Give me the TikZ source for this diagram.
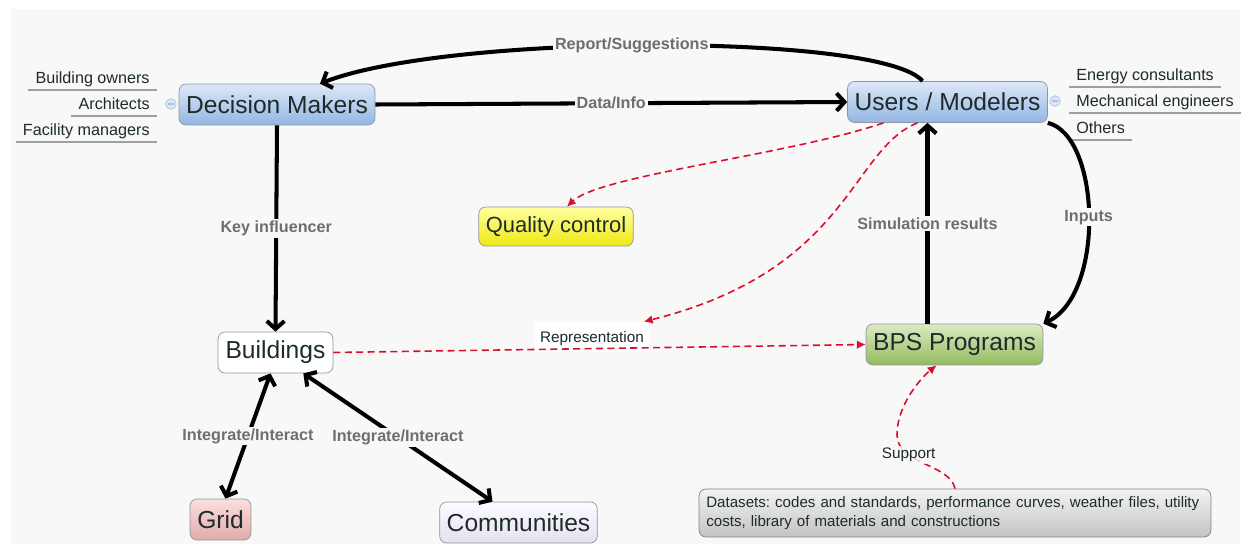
\documentclass[tikz,border=0pt]{standalone}
\usepackage{fontspec}
\setmainfont{Liberation Sans}
\usepackage{tikz}
\usetikzlibrary{arrows.meta}
\usetikzlibrary{calc}
\usetikzlibrary{positioning}
\definecolor{mbg}{HTML}{F8F8F8}
\definecolor{mtext}{HTML}{1E2B2B}
\definecolor{mgrey}{HTML}{6E6E6E}
\definecolor{mframe}{HTML}{8C96A0}
\definecolor{mred}{HTML}{D6102C}
\definecolor{mblueA}{HTML}{DDE8F7}
\definecolor{mblueB}{HTML}{93B6E4}
\definecolor{myellowA}{HTML}{FFFFA0}
\definecolor{myellowB}{HTML}{F0E812}
\definecolor{mgreenA}{HTML}{DCEAC2}
\definecolor{mgreenB}{HTML}{93BB5E}
\definecolor{mpinkA}{HTML}{FADFDF}
\definecolor{mpinkB}{HTML}{E2AAAA}
\definecolor{mlilacA}{HTML}{FCFBFF}
\definecolor{mlilacB}{HTML}{E6E0F0}
\definecolor{mgreyA}{HTML}{F3F3F3}
\definecolor{mgreyB}{HTML}{C3C3C3}
\definecolor{mknob}{HTML}{A9C2E2}
\definecolor{mknobfill}{HTML}{DCE8F6}
\tikzset{box/.style = {draw = mframe, rounded corners = 4pt, text = mtext, font = \fontsize{14}{16}\selectfont, minimum height = 0.82cm, inner xsep = 4pt}}
\tikzset{blk/.style = {line width = 2.3pt, -{Straight Barb[length = 4.5pt, width = 10pt]}}}
\tikzset{blkboth/.style = {line width = 2.3pt, {Straight Barb[length = 4.5pt, width = 10pt]}-{Straight Barb[length = 4.5pt, width = 10pt]}}}
\tikzset{rdash/.style = {mred, line width = 0.9pt, dash pattern = on 4pt off 2.5pt, -{Latex[length = 5pt, width = 5pt]}}}
\tikzset{elabel/.style = {font = \fontsize{9.2}{11}\selectfont\bfseries, text = mgrey, fill = mbg, inner sep = 1pt}}
\tikzset{plabel/.style = {font = \fontsize{8.7}{10}\selectfont, text = mtext, inner sep = 1pt}}
\tikzset{side/.style = {font = \fontsize{9.2}{11}\selectfont, text = mtext, inner xsep = 4pt, inner ysep = 2pt, text height = 7pt, text depth = 1.3pt}}
\tikzset{uline/.style = {draw = gray!75, line width = 0.8pt}}
\tikzset{knob/.style = {circle, draw = mknob, fill = mknobfill, inner sep = 0, minimum size = 6pt,
    path picture = {\draw [mknob, line width = 0.6pt] ([xshift = -1.8pt] path picture bounding box.center) -- ([xshift = 1.8pt] path picture bounding box.center);}}}

\begin{document}
\begin{tikzpicture}[x = 0.02cm, y = -0.02cm]
      \useasboundingbox (0, 0) rectangle (1248, 544);
      \fill [mbg] (11, 9) rectangle (1240, 544);

      \node [box, top color = mblueA, bottom color = mblueB, minimum width = 3.92cm] (dm) at (277, 104.5) {Decision Makers};
      \node [box, top color = mblueA, bottom color = mblueB, minimum width = 3.98cm] (um) at (947.5, 102) {Users / Modelers};
      \node [box, top color = myellowA, bottom color = myellowB, minimum width = 3.04cm, minimum height = 0.78cm, font = \fontsize{12.5}{14}\selectfont] (qc) at (556, 226.5) {Quality control};
      \node [box, fill = white, minimum width = 2.3cm] (bld) at (275.5, 352.5) {Buildings};
      \node [box, top color = mgreenA, bottom color = mgreenB, minimum width = 3.54cm] (bps) at (954.5, 344.5) {BPS Programs};
      \node [box, top color = mpinkA, bottom color = mpinkB, minimum width = 1.22cm] (grid) at (220.5, 519.5) {Grid};
      \node [box, top color = mlilacA, bottom color = mlilacB, minimum width = 3.14cm] (comm) at (518.5, 522.5) {Communities};
      \node [box, top color = mgreyA, bottom color = mgreyB, draw = gray, minimum width = 10.24cm, minimum height = 0.96cm,
        font = \fontsize{8.6}{10.5}\selectfont\frenchspacing, align = left, text width = 9.95cm] (data) at (955, 513) {Datasets: codes and standards, performance curves, weather files, utility\\costs, library of materials and constructions};
      \node [fill = white, minimum width = 2.3cm, minimum height = 0.6cm, inner sep = 0] (rl) at (592, 337) {};
      \node [plabel, anchor = north] at (rl.north) [yshift = -4.5pt] {Representation};

      \node [side, anchor = south east] (bo) at (157, 90) {Building owners};
      \node [side, anchor = south east] (ar) at (157, 116) {Architects};
      \node [side, anchor = south east] (fm) at (157, 142) {Facility managers};
      \draw [uline] (bo.south west) -- (bo.south east);
      \draw [uline] (ar.south west) -- (ar.south east);
      \draw [uline] (fm.south west) -- (fm.south east);
      \node [knob] (kl) at (171, 104) {};

      \node [side, anchor = south west] (ec) at (1069, 87) {Energy consultants};
      \node [side, anchor = south west] (me) at (1069, 113) {Mechanical engineers};
      \node [side, anchor = south west] (ot) at (1069, 140) {Others};
      \draw [uline] (ec.south west) -- (ec.south east);
      \draw [uline] (me.south west) -- (me.south east);
      \draw [uline] (ot.south west) -- (ot.south east);
      \node [knob] (kr) at (1055, 101) {};

      \draw [blk] ($(um.north) + (-25, 0)$) .. controls (883, 33) and (450, 33) .. ($(dm.north) + (43, 0)$)
        node [elabel, pos = 0.53] {Report/Suggestions};
      \draw [blk] (dm.east) -- (um.west) node [elabel, midway] {Data/Info};
      \draw [blk] (dm.south) -- (bld.north) node [elabel, midway] {Key influencer};
      \draw [blk] ($(bps.north) + (-27, 0)$) -- ($(um.south) + (-20, 0)$) node [elabel, midway] {Simulation results};
      \draw [blk] (um.south east) .. controls +(53, 13) and +(62, -29) .. (bps.north east) node [elabel, pos = 0.5] {Inputs};

      \draw [blkboth] ($(bld.south) + (-5, 0)$) -- ($(grid.north) + (5, 0)$) node [elabel, midway] {Integrate/Interact};
      \draw [blkboth] ($(bld.south east) + (-30, 0)$) -- ($(comm.north) + (-26, 0)$) node [elabel, midway] {Integrate/Interact};

      \draw [rdash] ($(um.south) + (-64, 0)$) .. controls (790, 155) and (600, 175) .. ($(qc.north) + (11, 0)$);
      \draw [rdash] ($(um.south) + (-30, 0)$) .. controls (850, 150) and (850, 270) .. ($(rl.north east) + (-6, 0)$);
      \draw [rdash] (bld.east) -- (bps.west);
      \draw [rdash] (data.north) .. controls +(-5, -25) and +(0, 30) .. ++(-58, -54)
        node [plabel, pos = 0.7, fill = mbg, fill opacity = 0.8, text opacity = 1] {Support}
        .. controls +(0, -30) and +(-15, 12) .. ($(bps.south) + (-18, 0)$);
    \end{tikzpicture}
\end{document}
